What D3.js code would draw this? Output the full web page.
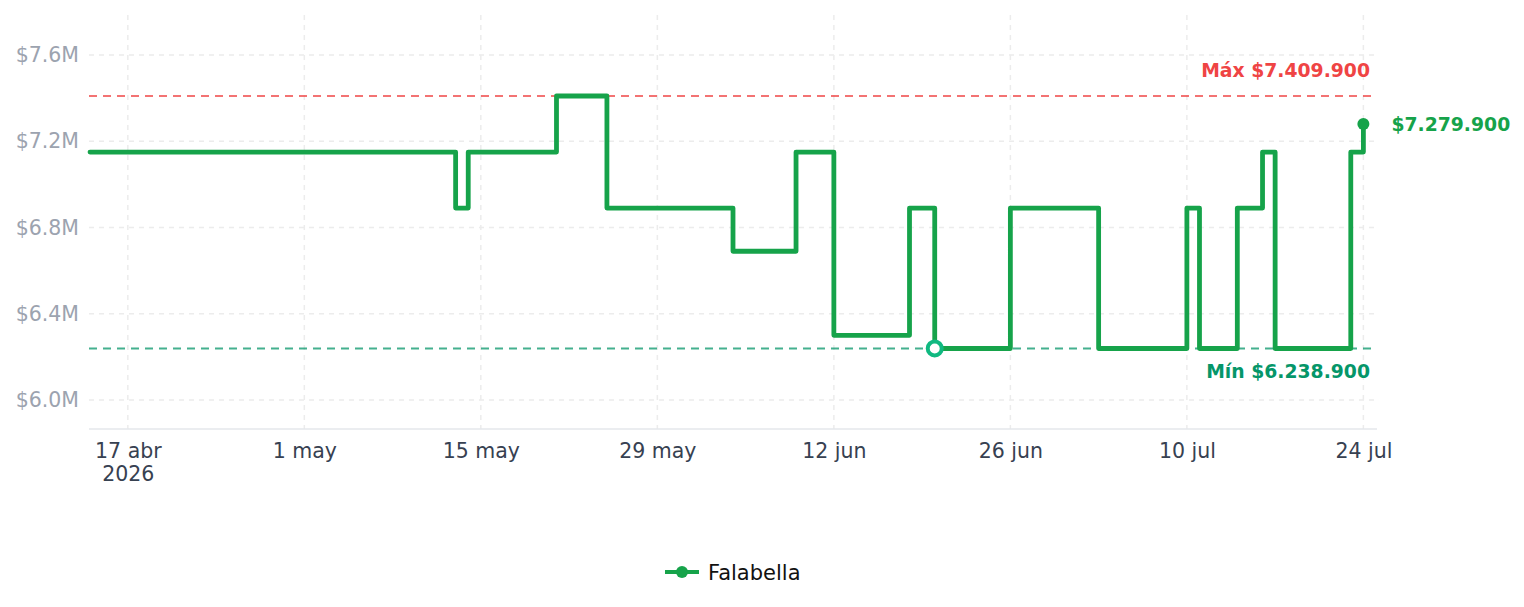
<!DOCTYPE html>
<html><head><meta charset="utf-8">
<script src="https://cdn.jsdelivr.net/npm/d3@7"></script>
<style>
html,body{margin:0;padding:0;background:#fff;}
svg{display:block;font-family:"DejaVu Sans",sans-serif;}
</style></head>
<body><svg id="c" width="1524" height="607"></svg>
<script>
const seriesName = "Falabella";
const dates = ["2026-04-14","2026-05-13","2026-05-14","2026-05-21","2026-05-25","2026-06-04","2026-06-09","2026-06-12","2026-06-18","2026-06-20","2026-06-26","2026-07-03","2026-07-10","2026-07-11","2026-07-14","2026-07-16","2026-07-17","2026-07-23","2026-07-24"];
const prices = [7149900,6889900,7149900,7409900,6889900,6689900,7149900,6299900,6889900,6238900,6889900,6238900,6889900,6238900,6889900,7149900,6238900,7149900,7279900];
const xTickDates = ["2026-04-17","2026-05-01","2026-05-15","2026-05-29","2026-06-12","2026-06-26","2026-07-10","2026-07-24"];
const xTickLabels = [["17 abr","2026"],["1 may"],["15 may"],["29 may"],["12 jun"],["26 jun"],["10 jul"],["24 jul"]];
const yTicks = [6000000,6400000,6800000,7200000,7600000];
const yTickLabels = ["$6.0M","$6.4M","$6.8M","$7.2M","$7.6M"];

(function(){
const parse = d3.utcParse("%Y-%m-%d");
const data = dates.map((d,i)=>({date:parse(d), value:prices[i]}));
const fmt = v => "$" + d3.format(",")(v).replace(/,/g,".");

const svg = d3.select("#c");
const pL = 89, pR = 1377, pT = 15, pB = 429;

const x = d3.scaleUtc().domain([parse("2026-04-14"), parse("2026-07-25")]).range([90, 1376]);
const y = d3.scaleLinear().domain([5865500, 7785500]).range([pB, pT]);

// grid
const g = svg.append("g");
g.selectAll("line.h").data(yTicks).join("line")
  .attr("x1", pL).attr("x2", pR)
  .attr("y1", d=>y(d)).attr("y2", d=>y(d))
  .attr("stroke","#ececec").attr("stroke-width",1.5).attr("stroke-dasharray","5,5");
g.selectAll("line.v").data(xTickDates).join("line")
  .attr("x1", d=>x(parse(d))).attr("x2", d=>x(parse(d)))
  .attr("y1", pT).attr("y2", pB)
  .attr("stroke","#ececec").attr("stroke-width",1.5).attr("stroke-dasharray","5,5");

// y axis labels
const yAxis = svg.append("g").attr("transform",`translate(${pL-10},0)`)
  .call(d3.axisLeft(y).tickValues(yTicks).tickFormat((d,i)=>yTickLabels[i]).tickSize(0).tickPadding(0));
yAxis.select(".domain").remove();
yAxis.selectAll("text").attr("fill","#9ca3af").attr("font-size",20.5).attr("font-family","DejaVu Sans");

// x axis
const xAxis = svg.append("g").attr("transform",`translate(0,${pB})`)
  .call(d3.axisBottom(x).tickValues(xTickDates.map(parse)).tickFormat("").tickSize(0));
xAxis.select(".domain").attr("stroke","#e5e7eb").attr("stroke-width",1.5).attr("d",`M${pL},0H${pR}`);
xAxis.selectAll(".tick").each(function(d,i){
  const t = d3.select(this).append("text").attr("fill","#374151").attr("font-size",20.5)
    .attr("font-family","DejaVu Sans").attr("text-anchor","middle");
  xTickLabels[i].forEach((s,j)=>{
    t.append("tspan").attr("x",0).attr("y", 29 + j*23).text(s);
  });
});

const maxV = d3.max(prices), minV = d3.min(prices);
// max / min lines
svg.append("line").attr("x1",pL).attr("x2",pR).attr("y1",y(maxV)).attr("y2",y(maxV))
  .attr("stroke","#ef4444").attr("stroke-opacity",0.75).attr("stroke-width",2).attr("stroke-dasharray","8,6");
svg.append("text").attr("x",1370).attr("y",y(maxV)-19).attr("text-anchor","end")
  .attr("fill","#ef4444").attr("font-weight","bold").attr("font-size",18.8).text("Máx " + fmt(maxV));
svg.append("line").attr("x1",pL).attr("x2",pR).attr("y1",y(minV)).attr("y2",y(minV))
  .attr("stroke","#059669").attr("stroke-opacity",0.75).attr("stroke-width",2).attr("stroke-dasharray","8,6");
svg.append("text").attr("x",1370).attr("y",y(minV)+30).attr("text-anchor","end")
  .attr("fill","#059669").attr("font-weight","bold").attr("font-size",18.8).text("Mín " + fmt(minV));

// line
const line = d3.line().x(d=>x(d.date)).y(d=>y(d.value)).curve(d3.curveStepAfter);
svg.append("path").datum(data).attr("d",line).attr("fill","none")
  .attr("stroke","#16a34a").attr("stroke-width",4.8).attr("stroke-linejoin","round").attr("stroke-linecap","round");

// min marker
const minPt = data.find(d=>d.value===minV);
svg.append("circle").attr("cx",x(minPt.date)).attr("cy",y(minPt.value)).attr("r",7)
  .attr("fill","#fff").attr("stroke","#10b981").attr("stroke-width",4);

// last point
const last = data[data.length-1];
svg.append("circle").attr("cx",x(last.date)).attr("cy",y(last.value)).attr("r",6).attr("fill","#16a34a");
svg.append("text").attr("x",x(last.date)+28).attr("y",y(last.value)).attr("dy","0.35em")
  .attr("fill","#16a34a").attr("font-weight","bold").attr("font-size",18.8).text(fmt(last.value));

// legend
const lg = svg.append("g").attr("transform","translate(665,572)");
lg.append("line").attr("x1",0).attr("x2",34).attr("y1",0).attr("y2",0).attr("stroke","#16a34a").attr("stroke-width",4);
lg.append("circle").attr("cx",17).attr("cy",0).attr("r",6).attr("fill","#16a34a");
lg.append("text").attr("x",43).attr("y",0).attr("dy","0.36em").attr("font-size",21).attr("fill","#111").text(seriesName);
})();
</script></body></html>
